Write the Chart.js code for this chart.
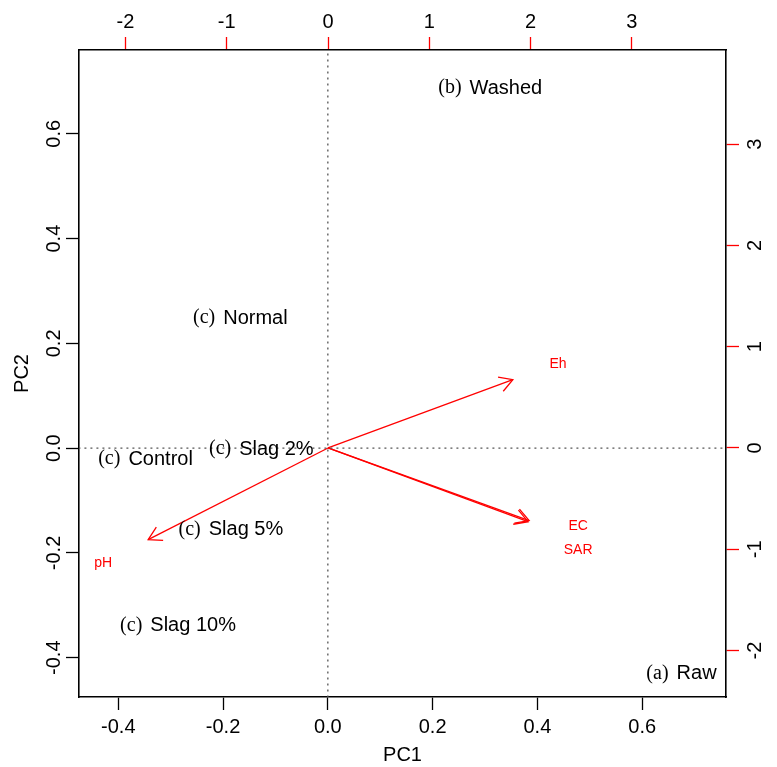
<!DOCTYPE html>
<html><head><meta charset="utf-8">
<script src="https://cdn.jsdelivr.net/npm/chart.js@4/dist/chart.umd.min.js"></script>
<style>html,body{margin:0;padding:0;background:#fff;} canvas{display:block;}</style>
</head><body>
<canvas id="c" width="777" height="767"></canvas>
<script>
// Sample scores (PC1 / PC2, bottom / left axes)
const sampleGroups = ["(a)", "(b)", "(c)", "(c)", "(c)", "(c)", "(c)"];
const sampleNames  = ["Raw", "Washed", "Control", "Normal", "Slag 2%", "Slag 5%", "Slag 10%"];
const samplePC1    = [0.675, 0.310, -0.348, -0.167, -0.127, -0.185, -0.286];
const samplePC2    = [-0.427, 0.691, -0.017, 0.252, 0.002, -0.152, -0.335];
// Variable loadings (top / right axes)
const varNames  = ["Eh", "EC", "SAR", "pH"];
const varArrowX = [1.825, 1.986, 1.975, -1.776];
const varArrowY = [0.674, -0.717, -0.728, -0.905];
const varLabelX = [2.272, 2.470, 2.470, -2.220];
const varLabelY = [0.842, -0.757, -0.994, -1.132];
// Ticks
const pcTicks   = [-0.4, -0.2, 0.0, 0.2, 0.4, 0.6];
const loadTicks = [-2, -1, 0, 1, 2, 3];
const pcRange   = [-0.475, 0.760];
const loadRange = [-2.459, 3.930];

const SANS = '"Liberation Sans", Arial, sans-serif';
const SERIF = '"Liberation Serif", "Times New Roman", serif';

const datasets = [];
// dotted zero lines
datasets.push({data:[{x:0,y:-5},{x:0,y:5}], xAxisID:'x', yAxisID:'y', showLine:true, pointRadius:0,
  borderColor:'#555', borderWidth:1.3, borderDash:[2,4]});
datasets.push({data:[{x:-5,y:0},{x:5,y:0}], xAxisID:'x', yAxisID:'y', showLine:true, pointRadius:0,
  borderColor:'#555', borderWidth:1.3, borderDash:[2,4]});
// sample points (invisible; labels drawn at these positions)
datasets.push({data: samplePC1.map((v,i)=>({x:v, y:samplePC2[i]})), xAxisID:'x', yAxisID:'y', pointRadius:0, showLine:false});
// arrows
varNames.forEach((n,i)=>{
  datasets.push({data:[{x:0,y:0},{x:varArrowX[i],y:varArrowY[i]}], xAxisID:'x2', yAxisID:'y2',
    showLine:true, pointRadius:0, borderColor:'#FF0000', borderWidth:1.3});
});

function fixTicks(arr){ return s => { s.ticks = arr.map(v=>({value:v})); }; }

const overlay = {
  id:'overlay',
  afterDatasetsDraw(chart){
    const {ctx, scales:{x,y,x2,y2}} = chart;
    ctx.save();
    // arrowheads
    ctx.strokeStyle = '#FF0000'; ctx.lineWidth = 1.3;
    const ox = x2.getPixelForValue(0), oy = y2.getPixelForValue(0);
    varNames.forEach((n,i)=>{
      const px = x2.getPixelForValue(varArrowX[i]), py = y2.getPixelForValue(varArrowY[i]);
      const ang = Math.atan2(py-oy, px-ox), L = 15, a = Math.PI/6;
      ctx.beginPath();
      ctx.moveTo(px - L*Math.cos(ang-a), py - L*Math.sin(ang-a));
      ctx.lineTo(px, py);
      ctx.lineTo(px - L*Math.cos(ang+a), py - L*Math.sin(ang+a));
      ctx.stroke();
    });
    // variable labels
    ctx.fillStyle = '#FF0000'; ctx.font = '14px ' + SANS;
    ctx.textAlign = 'center'; ctx.textBaseline = 'middle';
    varNames.forEach((n,i)=>{
      ctx.fillText(n, x2.getPixelForValue(varLabelX[i]), y2.getPixelForValue(varLabelY[i]) + 1);
    });
    // sample labels
    ctx.fillStyle = '#000';
    ctx.textAlign = 'left';
    const gap = 8;
    sampleNames.forEach((n,i)=>{
      ctx.font = '20px ' + SERIF;
      const w1 = ctx.measureText(sampleGroups[i]).width;
      ctx.font = '20px ' + SANS;
      const w2 = ctx.measureText(n).width;
      const cx = x.getPixelForValue(samplePC1[i]), cy = y.getPixelForValue(samplePC2[i]) + 2;
      let sx = cx - (w1 + gap + w2)/2;
      ctx.font = '20px ' + SERIF;
      ctx.fillText(sampleGroups[i], sx, cy);
      ctx.font = '20px ' + SANS;
      ctx.fillText(n, sx + w1 + gap, cy);
    });
    // rotated y tick labels
    ctx.fillStyle = '#000'; ctx.font = '20px ' + SANS;
    ctx.textAlign = 'center'; ctx.textBaseline = 'middle';
    pcTicks.forEach(v=>{
      const py = y.getPixelForValue(v);
      ctx.save(); ctx.translate(54, py); ctx.rotate(-Math.PI/2);
      ctx.fillText(v.toFixed(1), 0, 0); ctx.restore();
    });
    loadTicks.forEach(v=>{
      const py = y2.getPixelForValue(v);
      ctx.save(); ctx.translate(755, py); ctx.rotate(-Math.PI/2);
      ctx.fillText(String(v), 0, 0); ctx.restore();
    });
    ctx.restore();
  }
};

const axisFont = {family: SANS, size: 20};
new Chart(document.getElementById('c'), {
  type: 'scatter',
  data: {datasets},
  options: {
    responsive:false, animation:false, devicePixelRatio:1,
    layout:{padding:0},
    plugins:{legend:{display:false}, tooltip:{enabled:false}},
    scales:{
      x:{type:'linear', position:'bottom', min:pcRange[0], max:pcRange[1],
        afterBuildTicks: fixTicks(pcTicks),
        afterFit: s=>{ s.height = 70; },
        ticks:{color:'#000', font:axisFont, padding:5, maxRotation:0, autoSkip:false, callback:v=>v.toFixed(1)},
        grid:{drawOnChartArea:false, drawTicks:true, tickLength:13, tickColor:'#000', tickWidth:1.3},
        border:{display:true, color:'#000', width:1.6},
        title:{display:true, text:'PC1', color:'#000', font:axisFont, padding:{top:0,bottom:0}}
      },
      y:{type:'linear', position:'left', min:pcRange[0], max:pcRange[1],
        afterBuildTicks: fixTicks(pcTicks),
        afterFit: s=>{ s.width = 79; },
        ticks:{display:false},
        grid:{drawOnChartArea:false, drawTicks:true, tickLength:13, tickColor:'#000', tickWidth:1.3},
        border:{display:true, color:'#000', width:1.6},
        title:{display:true, text:'PC2', color:'#000', font:axisFont, padding:{top:10.5,bottom:10.5}}
      },
      x2:{type:'linear', position:'top', min:loadRange[0], max:loadRange[1],
        afterBuildTicks: fixTicks(loadTicks),
        afterFit: s=>{ s.height = 50; },
        ticks:{color:'#000', font:axisFont, padding:3, maxRotation:0, autoSkip:false, callback:v=>String(v)},
        grid:{drawOnChartArea:false, drawTicks:true, tickLength:13, tickColor:'#FF0000', tickWidth:1.3},
        border:{display:true, color:'#000', width:1.6}
      },
      y2:{type:'linear', position:'right', min:loadRange[0], max:loadRange[1],
        afterBuildTicks: fixTicks(loadTicks),
        afterFit: s=>{ s.width = 51; },
        ticks:{display:false},
        grid:{drawOnChartArea:false, drawTicks:true, tickLength:13, tickColor:'#FF0000', tickWidth:1.3},
        border:{display:true, color:'#000', width:1.6}
      }
    }
  },
  plugins:[overlay]
});
</script>
</body></html>
